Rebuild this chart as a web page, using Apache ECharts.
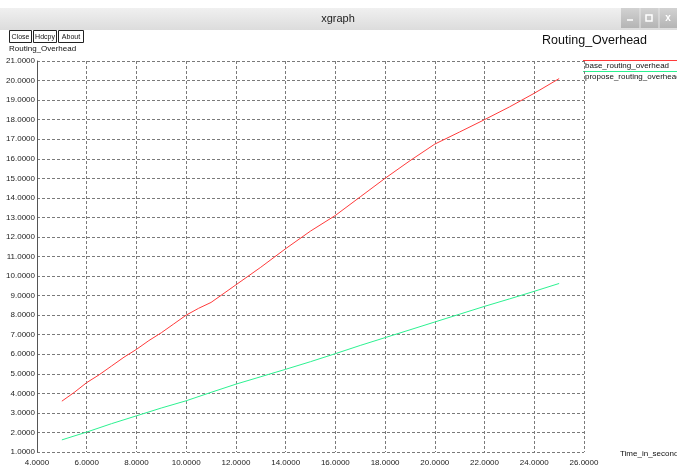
<!DOCTYPE html>
<html>
<head>
<meta charset="utf-8">
<title>xgraph</title>
<script src="https://cdn.jsdelivr.net/npm/echarts@6/dist/echarts.min.js"></script>
<style>
  html, body { margin: 0; padding: 0; background: #ffffff; }
  #chart { width: 677px; height: 467px; }
</style>
</head>
<body>
<div id="chart"></div>
<script>
// Routing overhead over simulation time, base vs proposed scheme
const seriesNames = ['base_routing_overhead', 'propose_routing_overhead'];
const seriesColors = ['#ff3b3b', '#2cf291'];

const baseTime = [5, 5.5, 6, 6.5, 7, 7.5, 8, 8.5, 9, 9.5, 10, 10.5, 11, 12, 13, 14, 15, 16, 17, 18, 19, 20, 21, 22, 23, 24, 25];
const baseOverhead = [3.6, 4.05, 4.55, 4.95, 5.4, 5.85, 6.25, 6.7, 7.1, 7.55, 8.0, 8.35, 8.65, 9.55, 10.45, 11.4, 12.3, 13.1, 14.05, 15.0, 15.9, 16.75, 17.37, 18.0, 18.65, 19.35, 20.1];

const proposeTime = [5, 6, 7, 8, 9, 10, 11, 12, 13, 14, 15, 16, 17, 18, 19, 20, 21, 22, 23, 24, 25];
const proposeOverhead = [1.62, 2.02, 2.45, 2.85, 3.25, 3.62, 4.05, 4.47, 4.85, 5.23, 5.62, 6.03, 6.45, 6.85, 7.25, 7.65, 8.05, 8.45, 8.83, 9.22, 9.62];

const windowTitle = 'xgraph';
const plotTitle = 'Routing_Overhead';
const yAxisTitle = 'Routing_Overhead';
const xAxisTitle = 'Time_in_seconds';
const buttonLabels = ['Close', 'Hdcpy', 'About'];

const FONT = '"Liberation Sans", "DejaVu Sans", sans-serif';

const chart = echarts.init(document.getElementById('chart'), null, { renderer: 'canvas' });

function pairs(xs, ys) { return xs.map((x, i) => [x, ys[i]]); }

// window chrome: title bar, window buttons, command buttons
const graphics = [
  {
    type: 'rect', shape: { x: 0, y: 8, width: 677, height: 22 },
    style: { fill: new echarts.graphic.LinearGradient(0, 0, 0, 1, [
      { offset: 0, color: '#f0f0f0' }, { offset: 1, color: '#dcdcdc' }]) },
    silent: true
  },
  {
    type: 'text', x: 338, y: 19,
    style: { text: windowTitle, font: '11px ' + FONT, fill: '#222', align: 'center', verticalAlign: 'middle' }
  },
  {
    type: 'rect', shape: { x: 621, y: 8, width: 56, height: 20 },
    style: { fill: new echarts.graphic.LinearGradient(0, 0, 0, 1, [
      { offset: 0, color: '#d2d2d2' }, { offset: 1, color: '#b4b4b4' }]) }
  },
  { type: 'line', shape: { x1: 640, y1: 8, x2: 640, y2: 28 }, style: { stroke: '#e6e6e6', lineWidth: 1 } },
  { type: 'line', shape: { x1: 659, y1: 8, x2: 659, y2: 28 }, style: { stroke: '#e6e6e6', lineWidth: 1 } },
  { type: 'line', shape: { x1: 627, y1: 20, x2: 633, y2: 20 }, style: { stroke: '#fff', lineWidth: 1.5 } },
  { type: 'rect', shape: { x: 646, y: 15, width: 6, height: 6 }, style: { fill: 'none', stroke: '#fff', lineWidth: 1.5 } },
  { type: 'text', x: 668, y: 18, style: { text: 'x', font: 'bold 10px ' + FONT, fill: '#fff', align: 'center', verticalAlign: 'middle' } },
  { type: 'text', x: 9, y: 49, style: { text: yAxisTitle, font: '8px ' + FONT, fill: '#111', verticalAlign: 'middle' } },
  { type: 'text', x: 647, y: 41, style: { text: plotTitle, font: '12.5px ' + FONT, fill: '#111', align: 'right', verticalAlign: 'middle' } },
  { type: 'text', x: 620, y: 454, style: { text: xAxisTitle, font: '8px ' + FONT, fill: '#111', verticalAlign: 'middle' } }
];

let bx = 9;
const bWidths = [22, 23, 25];
buttonLabels.forEach((lbl, i) => {
  graphics.push({ type: 'rect', shape: { x: bx + 0.5, y: 30.5, width: bWidths[i], height: 12 }, style: { fill: '#fff', stroke: '#222', lineWidth: 1 } });
  graphics.push({ type: 'text', x: bx + 0.5 + bWidths[i] / 2, y: 37, style: { text: lbl, font: '7px ' + FONT, fill: '#111', align: 'center', verticalAlign: 'middle' } });
  bx += bWidths[i] + 2;
});

// legend on the right: a coloured rule with the series name beneath
seriesNames.forEach((name, i) => {
  const y = 60.5 + i * 11;
  graphics.push({ type: 'line', shape: { x1: 583, y1: y, x2: 677, y2: y }, style: { stroke: seriesColors[i], lineWidth: 1 } });
  graphics.push({ type: 'text', x: 585, y: y + 5, style: { text: name, font: '8px ' + FONT, fill: '#111', verticalAlign: 'middle' } });
});

const gridLine = { show: true, lineStyle: { color: '#7a7a7a', type: [3, 2], width: 1 } };

chart.setOption({
  animation: false,
  backgroundColor: '#ffffff',
  grid: { left: 37, right: 93, top: 61, bottom: 14, containLabel: false },
  xAxis: {
    type: 'value', min: 4, max: 26, interval: 2,
    axisLine: { show: false },
    axisTick: { show: false },
    splitLine: gridLine,
    axisLabel: { formatter: v => v.toFixed(4), fontSize: 8, fontFamily: FONT, color: '#222', margin: 7 }
  },
  yAxis: {
    type: 'value', min: 1, max: 21, interval: 1,
    axisLine: { show: true, lineStyle: { color: '#555', width: 1 } },
    axisTick: { show: false },
    splitLine: gridLine,
    axisLabel: { formatter: v => v.toFixed(4), fontSize: 8, fontFamily: FONT, color: '#222', margin: 2 }
  },
  series: [
    {
      name: seriesNames[0], type: 'line', data: pairs(baseTime, baseOverhead),
      showSymbol: false, lineStyle: { color: seriesColors[0], width: 1 }, z: 3
    },
    {
      name: seriesNames[1], type: 'line', data: pairs(proposeTime, proposeOverhead),
      showSymbol: false, lineStyle: { color: seriesColors[1], width: 1 }, z: 3
    }
  ],
  graphic: graphics
});
</script>
</body>
</html>
